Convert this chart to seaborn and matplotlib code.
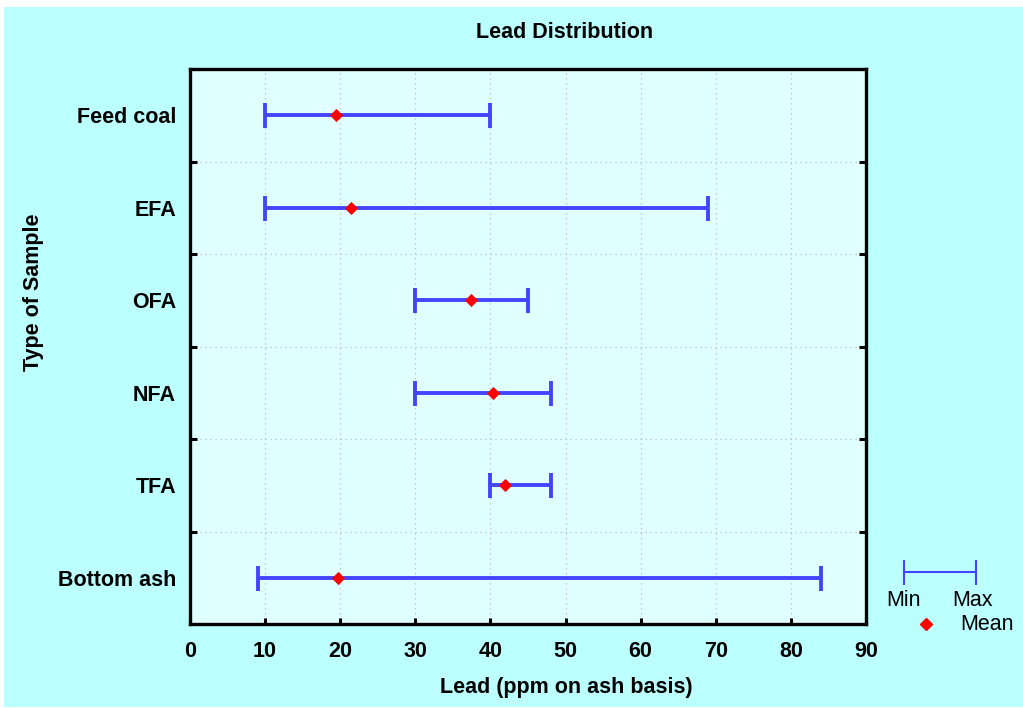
import numpy as np
import pandas as pd
import matplotlib
matplotlib.use("Agg")
import matplotlib.pyplot as plt
from matplotlib.patches import Rectangle
from matplotlib.ticker import MultipleLocator, FixedLocator
import seaborn as sns

# ------------------------------
# data
# ------------------------------
samples = ["Feed coal", "EFA", "OFA", "NFA", "TFA", "Bottom ash"]
lead_min = [10, 10, 30, 30, 40, 9]
lead_max = [40, 69, 45, 48, 48, 84]
lead_mean = [19.4, 21.4, 37.4, 40.3, 42.0, 19.7]

OUTER_BG = "#BBFFFF"
INNER_BG = "#E0FFFF"
BAR_COLOR = "#4444FF"
MEAN_COLOR = "#FF0000"
FS = 15.5

df = pd.DataFrame({"sample": samples, "min": lead_min,
                   "max": lead_max, "mean": lead_mean})
df["pos"] = np.arange(len(df))

sns.set_style("white")
plt.rcParams["font.family"] = ["Liberation Sans", "DejaVu Sans"]
plt.rcParams["text.color"] = "black"
plt.rcParams["axes.labelcolor"] = "black"
plt.rcParams["xtick.color"] = "black"
plt.rcParams["ytick.color"] = "black"

fig = plt.figure(figsize=(10.23, 7.08), dpi=100)
fig.patch.set_facecolor("white")
fig.patches.append(Rectangle((4 / 1023, 1 / 708), 1019 / 1023, 700 / 708,
                             transform=fig.transFigure, facecolor=OUTER_BG,
                             edgecolor="none", zorder=-10))

ax = fig.add_axes([190 / 1023, 1 - 624 / 708, 676 / 1023, 555 / 708])
ax.set_facecolor(INNER_BG)

# range bars (min -> max)
ax.errorbar(x=df["min"] + (df["max"] - df["min"]) / 2, y=df["pos"],
            xerr=(df["max"] - df["min"]) / 2, fmt="none",
            ecolor=BAR_COLOR, elinewidth=2.8, capsize=9, capthick=2.8, zorder=3)

# means
sns.scatterplot(data=df, x="mean", y="pos", marker="D", s=45,
                color=MEAN_COLOR, edgecolor=MEAN_COLOR, linewidth=0,
                ax=ax, zorder=4, legend=False)

ax.set_xlim(0, 90)
ax.set_ylim(len(samples) - 0.5, -0.5)

ax.xaxis.set_major_locator(MultipleLocator(10))
ax.yaxis.set_major_locator(FixedLocator(df["pos"]))
ax.yaxis.set_minor_locator(FixedLocator(df["pos"][:-1] + 0.5))
ax.set_yticklabels(samples)

ax.grid(True, which="major", axis="x", color="#BBBBBB", linestyle=(0, (1, 3)), linewidth=0.9)
ax.grid(True, which="minor", axis="y", color="#BBBBBB", linestyle=(0, (1, 3)), linewidth=0.9)
ax.grid(False, which="major", axis="y")
ax.set_axisbelow(True)

ax.tick_params(axis="x", which="major", direction="in", length=4, width=2.2,
               bottom=True, top=False, pad=12, labelsize=FS)
ax.tick_params(axis="y", which="major", length=0, pad=10, labelsize=FS)
ax.tick_params(axis="y", which="minor", direction="in", length=5, width=2.2,
               left=True, right=True)
for lab in ax.get_xticklabels() + ax.get_yticklabels():
    lab.set_fontweight("bold")

for sp in ax.spines.values():
    sp.set_visible(True)
    sp.set_linewidth(2.4)
    sp.set_color("black")

ax.set_xlabel("Lead (ppm on ash basis)", fontsize=FS, fontweight="bold", va="center")
ax.xaxis.set_label_coords((566 - 190) / 676, -(688 - 624) / 555)
ax.set_ylabel("Type of Sample", fontsize=FS, fontweight="bold", va="center")
ax.yaxis.set_label_coords(-(190 - 33) / 676, (624 - 292) / 555)

fig.text(565 / 1023, 1 - 32 / 708, "Lead Distribution", ha="center", va="center",
         fontsize=FS, fontweight="bold")

# legend key drawn in a small overlay axes
lg = fig.add_axes([880 / 1023, 1 - 650 / 708, 140 / 1023, 100 / 708])
lg.set_xlim(0, 140)
lg.set_ylim(100, 0)
lg.axis("off")
lg.errorbar(x=[60], y=[22], xerr=[[36], [36]], fmt="none", ecolor=BAR_COLOR,
            elinewidth=1.5, capsize=9, capthick=1.5)
lg.plot([46], [74], marker="D", color=MEAN_COLOR, markersize=6, linestyle="none")
lg.text(24, 50, "Min", ha="center", va="center", fontsize=FS)
lg.text(92, 50, "Max", ha="center", va="center", fontsize=FS)
lg.text(107, 75, "Mean", ha="center", va="center", fontsize=FS)

fig.savefig("out.png", dpi=100, facecolor=fig.get_facecolor())
